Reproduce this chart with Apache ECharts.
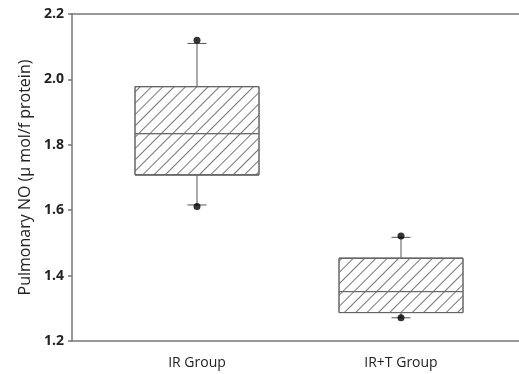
<!DOCTYPE html>
<html><head><meta charset="utf-8">
<script src="https://cdn.jsdelivr.net/npm/echarts@6/dist/echarts.min.js"></script>
<style>html,body{margin:0;padding:0;background:#fff}#c{width:519px;height:374px}</style>
</head><body><div id="c"></div>
<script>
const categories = ['IR Group', 'IR+T Group'];
const q1 = [1.708, 1.287];
const median = [1.834, 1.351];
const q3 = [1.978, 1.453];
const whiskerLow = [1.616, 1.271];
const whiskerHigh = [2.110, 1.517];
const dotLow = [1.611, 1.271];
const dotHigh = [2.120, 1.521];
const yTicks = [1.2, 2.2, 0.2];

const chart = echarts.init(document.getElementById('c'));
const boxData = categories.map((c, i) => [q1[i], q1[i], median[i], q3[i], q3[i]]);
const whiskerData = categories.map((c, i) => [i, q3[i], whiskerHigh[i], q1[i], whiskerLow[i]]);
const dots = [];
categories.forEach((c, i) => { dots.push([i, dotHigh[i]]); dots.push([i, dotLow[i]]); });
const axisColor = '#777';
const font = 'Open Sans';

chart.setOption({
  animation: false,
  grid: [
    {left: 72, right: 0, top: 14, bottom: 33},
    {left: 95, width: 408, top: 14, bottom: 33}
  ],
  xAxis: [
    {gridIndex: 0, type: 'value', min: 0, max: 1, position: 'bottom',
     axisLine: {show: true, lineStyle: {color: axisColor, width: 1.5}},
     axisTick: {show: false}, axisLabel: {show: false}, splitLine: {show: false}},
    {gridIndex: 0, type: 'value', min: 0, max: 1, position: 'top',
     axisLine: {show: true, lineStyle: {color: axisColor, width: 1.5}},
     axisTick: {show: false}, axisLabel: {show: false}, splitLine: {show: false}},
    {gridIndex: 1, type: 'category', data: categories,
     axisLine: {show: false}, axisTick: {show: false},
     axisLabel: {margin: 15, color: '#222', fontSize: 14, fontFamily: font}}
  ],
  yAxis: [
    {gridIndex: 0, type: 'value', min: yTicks[0], max: yTicks[1], interval: yTicks[2],
     name: 'Pulmonary NO (\u03bc mol/f protein)', nameLocation: 'middle', nameGap: 37,
     nameTextStyle: {color: '#222', fontSize: 16, fontFamily: font},
     axisLine: {show: true, lineStyle: {color: axisColor, width: 1.5}},
     axisTick: {show: true, length: 4, lineStyle: {color: axisColor, width: 1.5}},
     axisLabel: {margin: 8, color: '#222', fontSize: 14, fontWeight: 'bold', fontFamily: font,
                 formatter: v => v.toFixed(1)},
     splitLine: {show: false}},
    {gridIndex: 1, type: 'value', min: yTicks[0], max: yTicks[1], show: false}
  ],
  series: [
    {type: 'boxplot', xAxisIndex: 2, yAxisIndex: 1, data: boxData, boxWidth: [124, 124],
     itemStyle: {color: '#fff', borderColor: '#666', borderWidth: 1,
       decal: {symbol: 'rect', symbolSize: 1, color: '#777', dashArrayX: [1, 0], dashArrayY: [1, 7], rotation: -Math.PI / 4}},
     emphasis: {disabled: true}},
    {type: 'custom', xAxisIndex: 2, yAxisIndex: 1, data: whiskerData,
     renderItem: function (params, api) {
       const x = api.value(0);
       const pQ3 = api.coord([x, api.value(1)]);
       const pHi = api.coord([x, api.value(2)]);
       const pQ1 = api.coord([x, api.value(3)]);
       const pLo = api.coord([x, api.value(4)]);
       const hw = 9.5;
       const st = {stroke: '#555', lineWidth: 1};
       return {type: 'group', children: [
         {type: 'line', shape: {x1: pQ3[0], y1: pQ3[1], x2: pHi[0], y2: pHi[1]}, style: st},
         {type: 'line', shape: {x1: pHi[0] - hw, y1: pHi[1], x2: pHi[0] + hw, y2: pHi[1]}, style: st},
         {type: 'line', shape: {x1: pQ1[0], y1: pQ1[1], x2: pLo[0], y2: pLo[1]}, style: st},
         {type: 'line', shape: {x1: pLo[0] - hw, y1: pLo[1], x2: pLo[0] + hw, y2: pLo[1]}, style: st}
       ]};
     }},
    {type: 'scatter', xAxisIndex: 2, yAxisIndex: 1, data: dots, symbolSize: 7,
     itemStyle: {color: '#000'}, emphasis: {disabled: true}}
  ]
});
</script></body></html>
